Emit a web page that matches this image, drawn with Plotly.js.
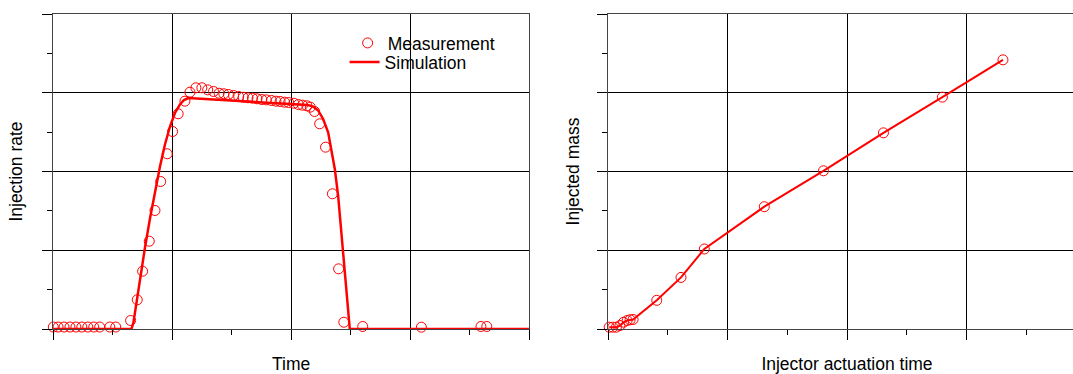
<!DOCTYPE html>
<html>
<head>
<meta charset="utf-8">
<script src="https://cdn.plot.ly/plotly-3.0.1.min.js"></script>
<style>
  html, body { margin: 0; padding: 0; overflow: hidden; background: #fff; }
  #chart { width: 1086px; height: 374px; }
</style>
</head>
<body>
<div id="chart"></div>
<script>
// ---- Left panel: injection rate vs time (grid units) ----
const rateMeasTime = [0.0, 0.04, 0.09, 0.14, 0.19, 0.24, 0.29, 0.34, 0.39, 0.475, 0.525,
  0.650, 0.706, 0.751, 0.807, 0.855, 0.903, 0.958, 1.003, 1.050, 1.107, 1.149, 1.199,
  1.249, 1.298, 1.347, 1.394, 1.434, 1.472, 1.516, 1.559, 1.597, 1.637, 1.675, 1.713,
  1.753, 1.791, 1.834, 1.872, 1.907, 1.945, 1.979, 2.023, 2.061, 2.095, 2.133, 2.161,
  2.197, 2.240, 2.289, 2.347, 2.399, 2.443, 2.602, 3.095, 3.596, 3.645];
const rateMeas = [0.025, 0.025, 0.025, 0.025, 0.025, 0.025, 0.025, 0.025, 0.025, 0.025, 0.025,
  0.108, 0.371, 0.734, 1.115, 1.505, 1.873, 2.225, 2.508, 2.733, 2.893, 3.007, 3.063,
  3.063, 3.037, 3.016, 2.994, 2.987, 2.978, 2.965, 2.952, 2.943, 2.936, 2.931, 2.923,
  2.914, 2.910, 2.902, 2.893, 2.889, 2.880, 2.876, 2.867, 2.851, 2.842, 2.834, 2.817,
  2.762, 2.606, 2.309, 1.717, 0.764, 0.086, 0.032, 0.023, 0.032, 0.032];
const rateSimTime = [0.0, 0.657, 0.674, 0.695, 0.729, 0.771, 0.813, 0.855, 0.897, 0.939,
  0.981, 1.023, 1.065, 1.099, 1.134, 2.140, 2.185, 2.227, 2.269, 2.311, 2.339, 2.367,
  2.395, 2.424, 2.451, 2.471, 2.485, 2.493, 4.0];
const rateSim = [0.0, 0.0, 0.083, 0.298, 0.616, 1.035, 1.403, 1.746, 2.063, 2.343,
  2.571, 2.743, 2.851, 2.908, 2.933, 2.844, 2.825, 2.775, 2.667, 2.497, 2.286, 2.032,
  1.695, 1.203, 0.727, 0.394, 0.178, 0.0, 0.0];

// ---- Right panel: injected mass vs injector actuation time (grid units) ----
const actTime = [0.01, 0.04, 0.07, 0.10, 0.13, 0.16, 0.185, 0.21, 0.408, 0.611, 0.806,
  1.308, 1.803, 2.305, 2.798, 3.305];
const massMeas = [0.023, 0.023, 0.023, 0.044, 0.086, 0.108, 0.117, 0.121, 0.364, 0.655, 1.016,
  1.553, 2.009, 2.491, 2.944, 3.418];
const massSim = [0.023, 0.023, 0.023, 0.044, 0.086, 0.108, 0.117, 0.121, 0.364, 0.655, 1.016,
  1.553, 2.009, 2.491, 2.944, 3.418];

const labels = {
  measurement: 'Measurement',
  simulation: 'Simulation',
  leftX: 'Time',
  leftY: 'Injection rate',
  rightX: 'Injector actuation time',
  rightY: 'Injected mass'
};

const RED = '#ff0000';
const FONT = 'Arial, "Liberation Sans", sans-serif';

const traces = [
  { x: rateMeasTime, y: rateMeas, type: 'scatter', mode: 'markers', name: labels.measurement,
    marker: { symbol: 'circle-open', size: 10, color: RED, line: { width: 1, color: RED } },
    xaxis: 'x', yaxis: 'y', cliponaxis: false, legend: 'legend' },
  { x: rateSimTime, y: rateSim, type: 'scatter', mode: 'lines', name: labels.simulation,
    line: { color: RED, width: 2.5 }, xaxis: 'x', yaxis: 'y', legend: 'legend2' },
  { x: actTime, y: massMeas, type: 'scatter', mode: 'markers', name: labels.measurement,
    marker: { symbol: 'circle-open', size: 10, color: RED, line: { width: 1, color: RED } },
    xaxis: 'x2', yaxis: 'y2', showlegend: false, cliponaxis: false },
  { x: actTime, y: massSim, type: 'scatter', mode: 'lines', name: labels.simulation,
    line: { color: RED, width: 2 }, xaxis: 'x2', yaxis: 'y2', showlegend: false }
];

function axis(extra) {
  return Object.assign({
    range: [0, 4], dtick: 1, tick0: 0,
    showgrid: true, gridcolor: '#000', gridwidth: 1,
    zeroline: false, showline: true, linecolor: '#444', linewidth: 1, mirror: true,
    ticks: 'outside', ticklen: 10, tickwidth: 1, tickcolor: '#000',
    showticklabels: false, fixedrange: true,
    minor: { ticks: 'outside', ticklen: 5, dtick: 0.5, tick0: 0, tickcolor: '#000', tickwidth: 1, showgrid: false }
  }, extra);
}

const titleFont = { family: FONT, size: 17.5, color: '#000' };
const legendFont = { family: FONT, size: 17.5, color: '#000' };

const layout = {
  width: 1086, height: 374,
  margin: { l: 0, r: 0, t: 14, b: 45 },
  paper_bgcolor: '#fff', plot_bgcolor: '#fff',
  font: { family: FONT, color: '#000' },
  showlegend: true,
  legend: {
    x: 0.3201, xanchor: 'left', y: 0.965, yanchor: 'top',
    bgcolor: 'rgba(0,0,0,0)', borderwidth: 0, font: legendFont
  },
  legend2: {
    x: 0.3173, xanchor: 'left', y: 0.9045, yanchor: 'top',
    bgcolor: 'rgba(0,0,0,0)', borderwidth: 0, font: legendFont
  },
  xaxis: axis({ domain: [53.3 / 1086, 529 / 1086], anchor: 'y',
    title: { text: labels.leftX, font: titleFont, standoff: 24 } }),
  yaxis: axis({ domain: [0, 1], anchor: 'x',
    title: { text: labels.leftY, font: titleFont, standoff: 15 } }),
  xaxis2: axis({ domain: [608 / 1086, 1], anchor: 'y2',
    title: { text: labels.rightX, font: titleFont, standoff: 24 } }),
  yaxis2: axis({ domain: [0, 1], anchor: 'x2',
    title: { text: labels.rightY, font: titleFont, standoff: 12 } })
};

Plotly.newPlot('chart', traces, layout, { staticPlot: true, displayModeBar: false });
</script>
</body>
</html>
